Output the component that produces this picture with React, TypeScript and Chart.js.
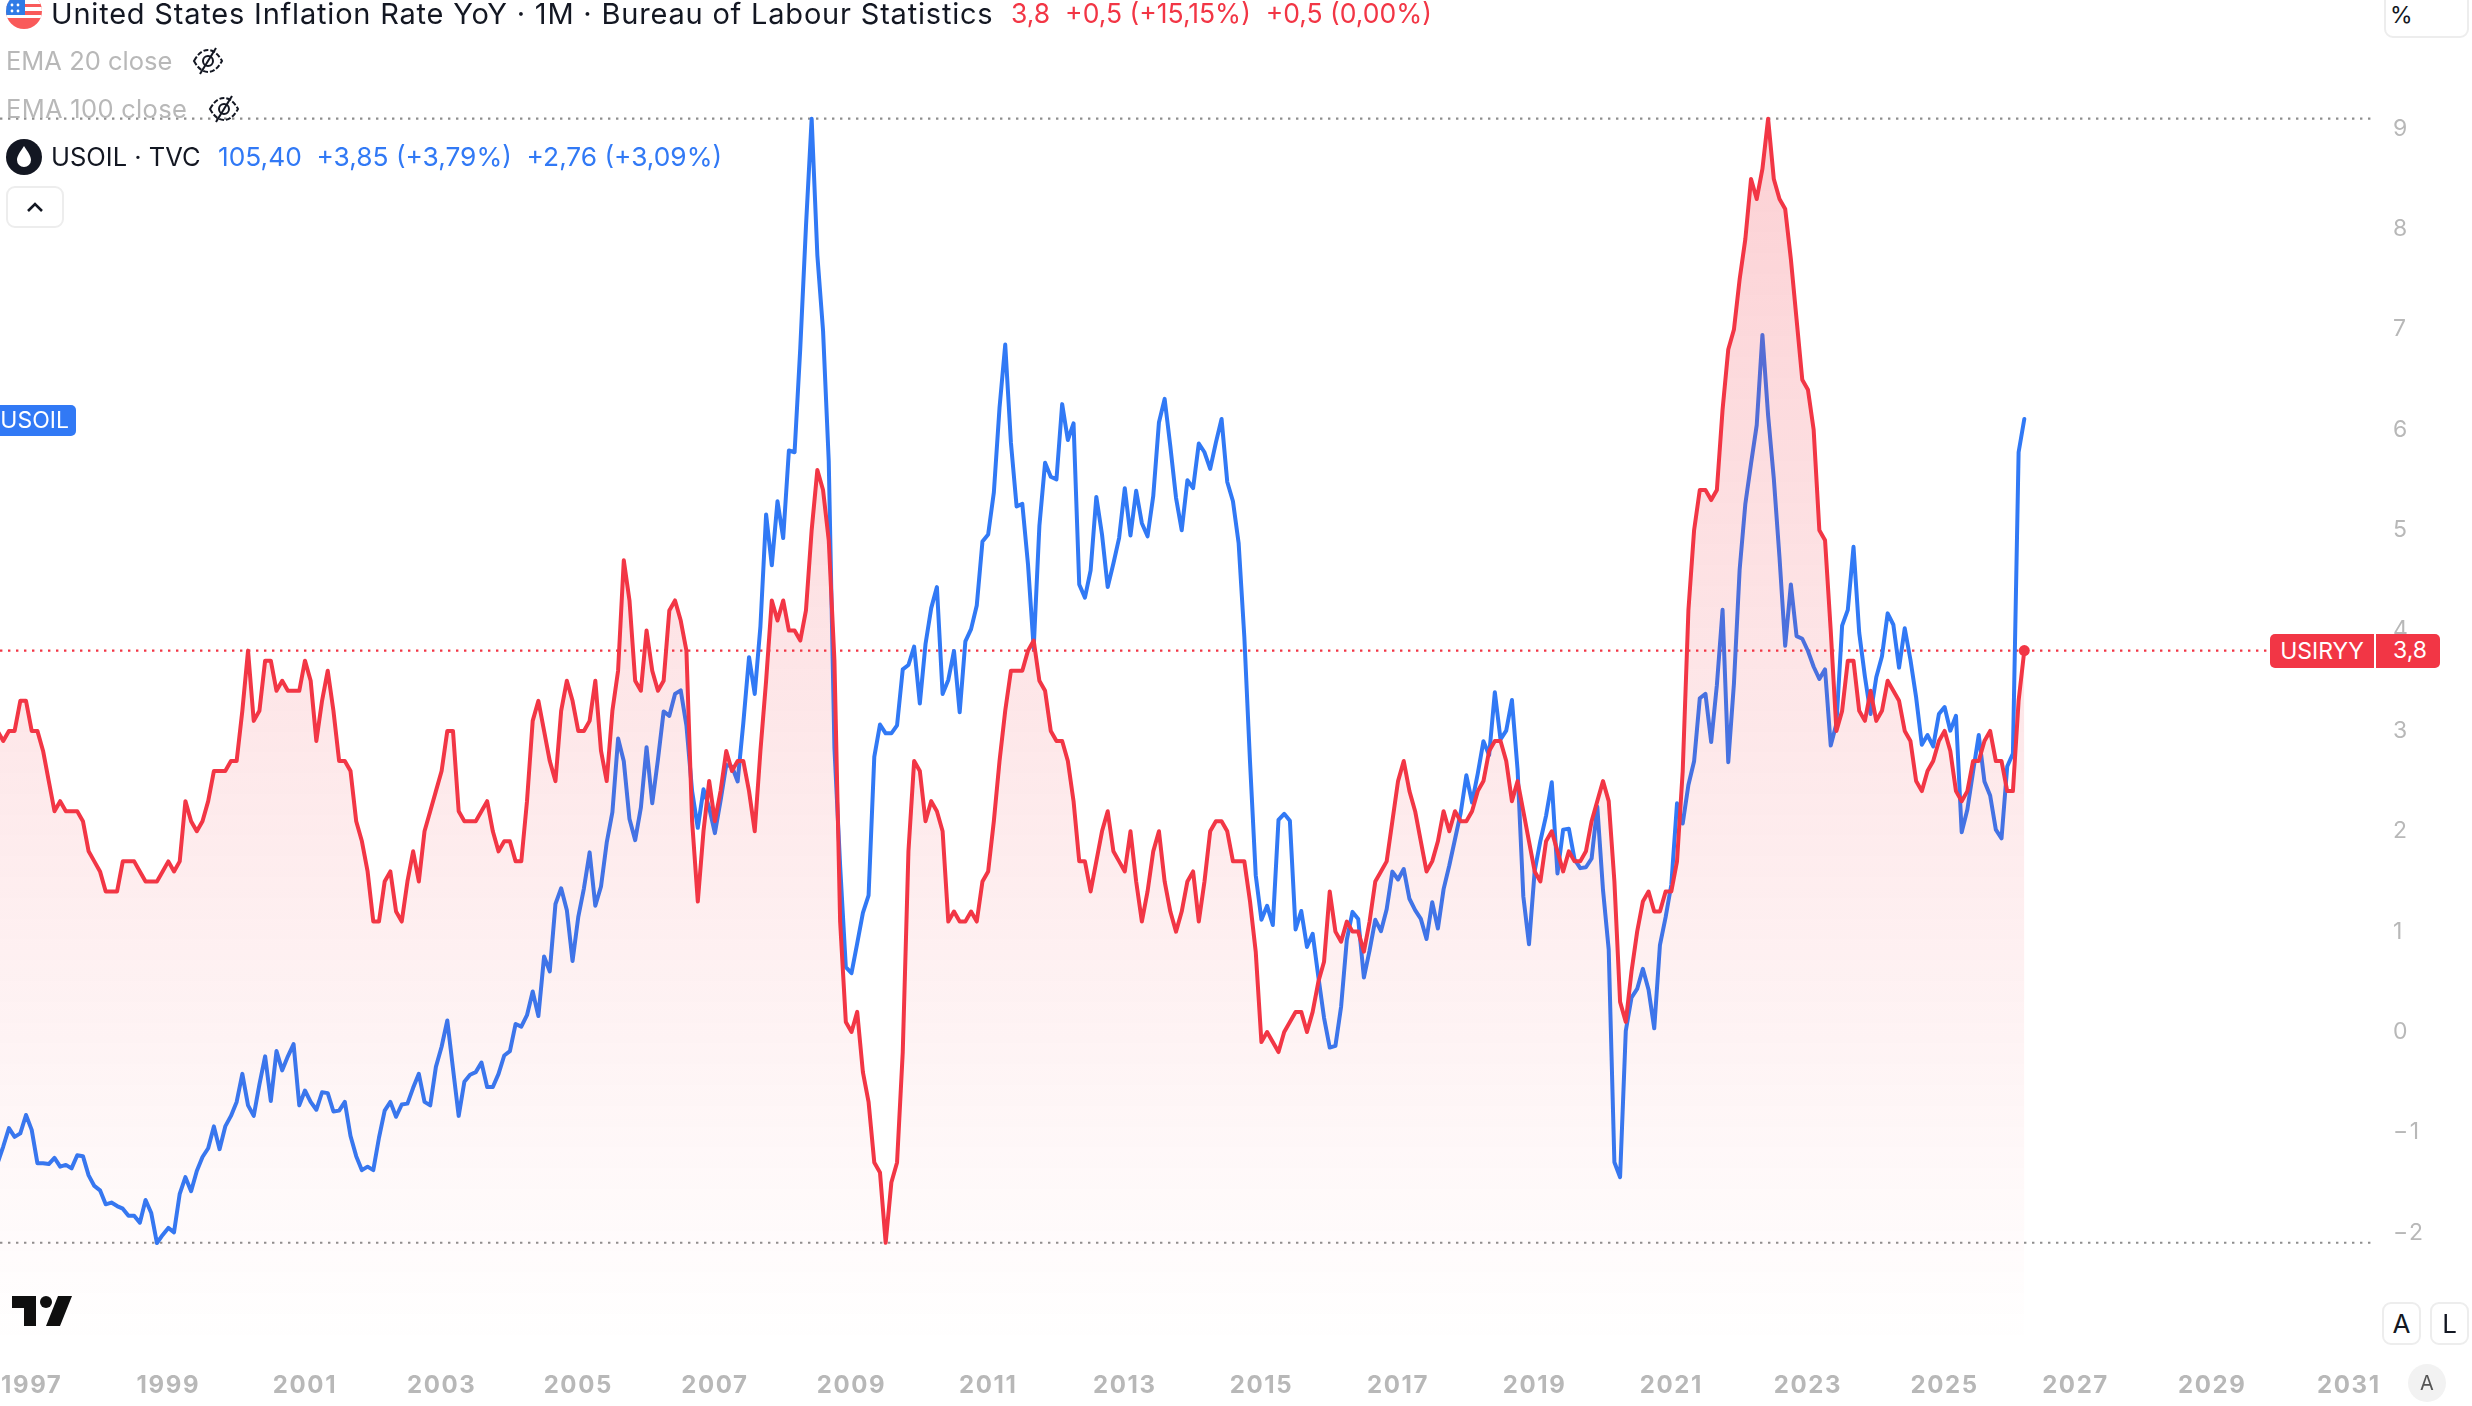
import { Chart, registerables } from "chart.js"
import { useEffect, useRef } from "react"

Chart.register(...registerables)

// bar number of the first value, bar 0 is Jan 1997. Oct 2025 has no print so the axis skips it.
const firstBar = -6

// USIRYY, Jul 1996 to Apr 2026
const inflation = [
    3.0, 2.9, 3.0, 3.0, 3.3, 3.3,
    3.0, 3.0, 2.8, 2.5, 2.2, 2.3, 2.2, 2.2, 2.2, 2.1, 1.8, 1.7,
    1.6, 1.4, 1.4, 1.4, 1.7, 1.7, 1.7, 1.6, 1.5, 1.5, 1.5, 1.6,
    1.7, 1.6, 1.7, 2.3, 2.1, 2.0, 2.1, 2.3, 2.6, 2.6, 2.6, 2.7,
    2.7, 3.2, 3.8, 3.1, 3.2, 3.7, 3.7, 3.4, 3.5, 3.4, 3.4, 3.4,
    3.7, 3.5, 2.9, 3.3, 3.6, 3.2, 2.7, 2.7, 2.6, 2.1, 1.9, 1.6,
    1.1, 1.1, 1.5, 1.6, 1.2, 1.1, 1.5, 1.8, 1.5, 2.0, 2.2, 2.4,
    2.6, 3.0, 3.0, 2.2, 2.1, 2.1, 2.1, 2.2, 2.3, 2.0, 1.8, 1.9,
    1.9, 1.7, 1.7, 2.3, 3.1, 3.3, 3.0, 2.7, 2.5, 3.2, 3.5, 3.3,
    3.0, 3.0, 3.1, 3.5, 2.8, 2.5, 3.2, 3.6, 4.7, 4.3, 3.5, 3.4,
    4.0, 3.6, 3.4, 3.5, 4.2, 4.3, 4.1, 3.8, 2.1, 1.3, 2.0, 2.5,
    2.1, 2.4, 2.8, 2.6, 2.7, 2.7, 2.4, 2.0, 2.8, 3.5, 4.3, 4.1,
    4.3, 4.0, 4.0, 3.9, 4.2, 5.0, 5.6, 5.4, 4.9, 3.7, 1.1, 0.1,
    0.0, 0.2, -0.4, -0.7, -1.3, -1.4, -2.1, -1.5, -1.3, -0.2, 1.8, 2.7,
    2.6, 2.1, 2.3, 2.2, 2.0, 1.1, 1.2, 1.1, 1.1, 1.2, 1.1, 1.5,
    1.6, 2.1, 2.7, 3.2, 3.6, 3.6, 3.6, 3.8, 3.9, 3.5, 3.4, 3.0,
    2.9, 2.9, 2.7, 2.3, 1.7, 1.7, 1.4, 1.7, 2.0, 2.2, 1.8, 1.7,
    1.6, 2.0, 1.5, 1.1, 1.4, 1.8, 2.0, 1.5, 1.2, 1.0, 1.2, 1.5,
    1.6, 1.1, 1.5, 2.0, 2.1, 2.1, 2.0, 1.7, 1.7, 1.7, 1.3, 0.8,
    -0.1, 0.0, -0.1, -0.2, 0.0, 0.1, 0.2, 0.2, 0.0, 0.2, 0.5, 0.7,
    1.4, 1.0, 0.9, 1.1, 1.0, 1.0, 0.8, 1.1, 1.5, 1.6, 1.7, 2.1,
    2.5, 2.7, 2.4, 2.2, 1.9, 1.6, 1.7, 1.9, 2.2, 2.0, 2.2, 2.1,
    2.1, 2.2, 2.4, 2.5, 2.8, 2.9, 2.9, 2.7, 2.3, 2.5, 2.2, 1.9,
    1.6, 1.5, 1.9, 2.0, 1.8, 1.6, 1.8, 1.7, 1.7, 1.8, 2.1, 2.3,
    2.5, 2.3, 1.5, 0.3, 0.1, 0.6, 1.0, 1.3, 1.4, 1.2, 1.2, 1.4,
    1.4, 1.7, 2.6, 4.2, 5.0, 5.4, 5.4, 5.3, 5.4, 6.2, 6.8, 7.0,
    7.5, 7.9, 8.5, 8.3, 8.6, 9.1, 8.5, 8.3, 8.2, 7.7, 7.1, 6.5,
    6.4, 6.0, 5.0, 4.9, 4.0, 3.0, 3.2, 3.7, 3.7, 3.2, 3.1, 3.4,
    3.1, 3.2, 3.5, 3.4, 3.3, 3.0, 2.9, 2.5, 2.4, 2.6, 2.7, 2.9,
    3.0, 2.8, 2.4, 2.3, 2.4, 2.7, 2.7, 2.9, 3.0, 2.7, 2.7,
    2.4, 2.4, 3.3, 3.8
]

// USOIL month closes, same bars
const oil = [
    20.4, 22.3, 24.4, 23.4, 23.8, 25.9,
    24.2, 20.4, 20.4, 20.3, 21.0, 20.0, 20.2, 19.8, 21.3, 21.2, 19.0, 17.8,
    17.3, 15.7, 15.9, 15.5, 15.2, 14.4, 14.4, 13.6, 16.2, 14.7, 11.28, 12.2,
    13.0, 12.5, 16.9, 18.8, 17.2, 19.5, 21.1, 22.1, 24.6, 22.0, 24.6, 25.8,
    27.4, 30.6, 27.0, 25.8, 29.4, 32.6, 27.5, 33.2, 31.0, 32.6, 34.0, 27.0,
    28.7, 27.4, 26.5, 28.5, 28.4, 26.3, 26.4, 27.4, 23.5, 21.2, 19.6, 20.0,
    19.6, 23.3, 26.4, 27.4, 25.7, 27.1, 27.2, 29.0, 30.6, 27.4, 27.0, 31.4,
    33.7, 36.7, 31.2, 25.8, 29.7, 30.5, 30.8, 31.9, 29.1, 29.1, 30.6, 32.7,
    33.2, 36.3, 36.0, 37.3, 40.0, 37.2, 44.0, 42.3, 50.0, 51.8, 49.3, 43.5,
    48.5, 51.8, 55.9, 49.8, 52.0, 57.0, 60.5, 68.9, 66.3, 59.7, 57.3, 61.0,
    67.9, 61.5, 66.5, 72.0, 71.5, 74.0, 74.4, 70.4, 62.9, 58.7, 63.1, 61.0,
    58.1, 61.8, 65.9, 65.7, 64.0, 70.7, 78.2, 74.0, 81.7, 94.5, 88.7, 96.0,
    91.8, 101.8, 101.6, 113.5, 127.4, 139.7, 124.1, 115.5, 100.6, 67.8, 54.4, 42.8,
    42.1, 45.5, 49.0, 51.0, 66.8, 70.5, 69.5, 69.5, 70.4, 76.8, 77.3, 79.4,
    72.9, 79.7, 83.8, 86.2, 74.0, 75.6, 78.9, 71.9, 80.0, 81.4, 84.1, 91.4,
    92.2, 97.0, 106.7, 113.9, 102.7, 95.4, 95.7, 88.8, 79.2, 93.2, 100.4, 98.8,
    98.5, 107.1, 103.0, 104.9, 86.5, 85.0, 88.1, 96.5, 92.2, 86.2, 88.9, 91.8,
    97.5, 92.1, 97.2, 93.5, 92.0, 96.6, 105.0, 107.7, 102.3, 96.4, 92.7, 98.4,
    97.5, 102.6, 101.6, 99.7, 102.7, 105.4, 98.2, 96.0, 91.2, 80.5, 66.2, 53.3,
    48.2, 49.8, 47.6, 59.6, 60.3, 59.5, 47.1, 49.2, 45.1, 46.6, 41.7, 37.0,
    33.6, 33.8, 38.3, 45.9, 49.1, 48.3, 41.6, 44.7, 48.2, 46.9, 49.4, 53.7,
    52.8, 54.0, 50.6, 49.3, 48.3, 46.0, 50.2, 47.2, 51.7, 54.4, 57.4, 60.4,
    64.7, 61.6, 64.9, 68.6, 67.0, 74.2, 68.8, 69.8, 73.3, 65.3, 50.9, 45.4,
    53.8, 57.2, 60.1, 63.9, 53.5, 58.5, 58.6, 55.1, 54.1, 54.2, 55.2, 61.1,
    51.6, 44.8, 20.5, 18.8, 35.5, 39.3, 40.3, 42.6, 40.2, 35.8, 45.3, 48.5,
    52.2, 61.5, 59.2, 63.6, 66.3, 73.5, 74.0, 68.5, 75.0, 83.6, 66.2, 75.2,
    88.2, 95.7, 100.3, 104.7, 115.0, 105.8, 98.6, 89.6, 79.5, 86.5, 80.6, 80.3,
    78.9, 77.1, 75.7, 76.8, 68.1, 70.6, 81.8, 83.6, 90.8, 81.0, 76.0, 71.7,
    75.9, 78.3, 83.2, 81.9, 77.0, 81.5, 77.9, 73.6, 68.2, 69.3, 68.0, 71.7,
    72.5, 69.8, 71.5, 58.2, 60.8, 65.1, 69.3, 64.0, 62.4, 58.5, 57.5,
    65.7, 67.2, 101.6, 105.4
]

const yearLabels = [1997, 1999, 2001, 2003, 2005, 2007, 2009, 2011, 2013, 2015, 2017, 2019, 2021, 2023, 2025, 2027, 2029, 2031]
const yearBars = [0, 24, 48, 72, 96, 120, 144, 168, 192, 216, 240, 264, 288, 312, 336, 359, 383, 407]
const priceTicks = [9, 8, 7, 6, 5, 4, 3, 2, 1, 0, -1, -2]
const highValue = 9.1
const lowValue = -2.1
const lastValue = 3.8

const red = "#F23645"
const blue = "#3179F5"
const grey = "#B8B8B8"
const font = "Inter, 'Liberation Sans', sans-serif"

const T = ({ x, y, size, color, children, spacing }: any) => (
    <div style={{ position: "absolute", left: x, top: y, transform: "translateY(-50%)", fontSize: size, color, letterSpacing: spacing || 0, whiteSpace: "nowrap", lineHeight: 1 }}>
        {children}
    </div>
)

const EyeOff = ({ x, y }: { x: number; y: number }) => (
    <svg style={{ position: "absolute", left: x, top: y }} width="32" height="28" viewBox="0 0 32 28" fill="none" stroke="#131722" strokeWidth="2">
        <path d="M2 14 C7 5 12 3 16 3 C20 3 25 5 30 14 C25 23 20 25 16 25 C12 25 7 23 2 14 Z" strokeDasharray="5 2" />
        <circle cx="16" cy="14" r="5" />
        <path d="M24 1 L8 27" />
    </svg>
)

const Box = ({ x, y, w, h, children }: any) => (
    <div style={{ position: "absolute", left: x, top: y, width: w, height: h, boxSizing: "border-box", border: "2px solid #EDEDED", borderRadius: 9, background: "#fff", display: "flex", alignItems: "center", justifyContent: "center", color: "#131722", fontSize: 26 }}>
        {children}
    </div>
)

// no room kept around the plot for the outer tick labels
const noPadding = (scale: any) => {
    scale.paddingLeft = 0
    scale.paddingRight = 0
    scale.paddingTop = 0
    scale.paddingBottom = 0
}

// year labels are set wide in the reference
const tickSpacing = {
    id: "tickSpacing",
    beforeDraw: (chart: any) => {
        chart.ctx.letterSpacing = "1.6px"
    }
}

export default function App() {
    const canvas = useRef<HTMLCanvasElement>(null)

    useEffect(() => {
        if (!canvas.current) return
        const xMin = -5.568
        const xMax = 411.6
        const toPoints = (values: number[]) => values.map((y, i) => ({ x: firstBar + i, y }))
        const flat = (y: number) => [{ x: xMin, y }, { x: xMax, y }]
        const last = inflation.length - 1

        const chart = new Chart(canvas.current, {
            type: "line",
            plugins: [tickSpacing],
            data: {
                datasets: [
                    {
                        label: "USIRYY",
                        data: toPoints(inflation),
                        borderColor: red,
                        borderWidth: 4,
                        borderJoinStyle: "round",
                        borderCapStyle: "round",
                        fill: "start",
                        backgroundColor: (ctx: any) => {
                            const area = ctx.chart.chartArea
                            if (!area) return "rgba(242,54,69,0.1)"
                            const g = ctx.chart.ctx.createLinearGradient(0, 118, 0, area.bottom)
                            g.addColorStop(0, "rgba(242,54,69,0.23)")
                            g.addColorStop(1, "rgba(242,54,69,0)")
                            return g
                        },
                        pointRadius: (ctx: any) => (ctx.dataIndex === last ? 5.5 : 0),
                        pointBackgroundColor: red,
                        pointBorderWidth: 0,
                        yAxisID: "y",
                        order: 1
                    },
                    {
                        label: "USOIL",
                        data: toPoints(oil),
                        borderColor: blue,
                        borderWidth: 4,
                        borderJoinStyle: "round",
                        borderCapStyle: "round",
                        pointRadius: 0,
                        yAxisID: "y2",
                        order: 2
                    },
                    {
                        label: "last",
                        data: flat(lastValue),
                        borderColor: red,
                        borderWidth: 2.2,
                        borderDash: [2.4, 5.6],
                        pointRadius: 0,
                        yAxisID: "y",
                        order: 3
                    },
                    {
                        label: "high",
                        data: flat(highValue),
                        borderColor: "#8E8E8E",
                        borderWidth: 2.2,
                        borderDash: [2.4, 5.6],
                        pointRadius: 0,
                        yAxisID: "y",
                        order: 3
                    },
                    {
                        label: "low",
                        data: flat(lowValue),
                        borderColor: "#8E8E8E",
                        borderWidth: 2.2,
                        borderDash: [2.4, 5.6],
                        pointRadius: 0,
                        yAxisID: "y",
                        order: 3
                    }
                ]
            },
            options: {
                animation: false,
                responsive: false,
                devicePixelRatio: 1,
                layout: { padding: 0, autoPadding: false },
                plugins: { legend: { display: false }, tooltip: { enabled: false } },
                scales: {
                    x: {
                        type: "linear",
                        min: xMin,
                        max: xMax,
                        grid: { display: false },
                        border: { display: false },
                        afterFit: (scale: any) => {
                            scale.height = 61
                            noPadding(scale)
                        },
                        afterBuildTicks: (scale: any) => {
                            scale.ticks = yearBars.map((value) => ({ value }))
                        },
                        ticks: {
                            autoSkip: false,
                            maxRotation: 0,
                            padding: 18,
                            color: grey,
                            font: { family: "Inter", size: 24, weight: 700 },
                            callback: (value: any) => String(yearLabels[yearBars.indexOf(value)])
                        }
                    },
                    y: {
                        position: "right",
                        min: -3.119,
                        max: 10.283,
                        grid: { display: false },
                        border: { display: false },
                        afterFit: (scale: any) => {
                            scale.width = 97
                            noPadding(scale)
                        },
                        afterBuildTicks: (scale: any) => {
                            scale.ticks = priceTicks.map((value) => ({ value }))
                        },
                        ticks: {
                            autoSkip: false,
                            padding: 10,
                            color: grey,
                            font: { family: "Inter", size: 23 },
                            callback: (value: any) => (value < 0 ? "\u2212" + Math.abs(value) : String(value))
                        }
                    },
                    y2: { display: false, position: "left", min: -0.37, max: 153.26 }
                }
            }
        })

        return () => {
            chart.destroy()
        }
    }, [])

    return (
        <div style={{ position: "absolute", left: 0, top: 0, width: 2472, height: 1406, overflow: "hidden", background: "#fff", fontFamily: font }}>
            <canvas ref={canvas} width={2472} height={1406} style={{ position: "absolute", left: 0, top: 0 }}></canvas>

            {/* flag, its top is cut by the page edge */}
            <svg style={{ position: "absolute", left: 6, top: -7 }} width="36" height="36" viewBox="0 0 36 36">
                <clipPath id="flag"><circle cx="18" cy="18" r="18" /></clipPath>
                <g clipPath="url(#flag)">
                    <rect width="36" height="36" fill="#F95A5A" />
                    <rect y="14" width="36" height="4" fill="#fff" />
                    <rect y="7" width="36" height="4" fill="#fff" />
                    <rect y="22" width="36" height="3" fill="#fff" />
                    <rect width="19" height="22" fill="#2F7BE6" />
                    <circle cx="6" cy="12" r="1.4" fill="#fff" />
                    <circle cx="12" cy="12" r="1.4" fill="#fff" />
                    <circle cx="6" cy="18" r="1.4" fill="#fff" />
                    <circle cx="12" cy="18" r="1.4" fill="#fff" />
                </g>
            </svg>
            <T x={51} y={13} size={29} spacing="0.8px" color="#131722">United States Inflation Rate YoY · 1M · Bureau of Labour Statistics</T>
            <T x={1011} y={13} size={26.5} color={red}>3,8&nbsp; +0,5 (+15,15%)&nbsp; +0,5 (0,00%)</T>

            <T x={6} y={61} size={25.5} color={grey}>EMA 20 close</T>
            <EyeOff x={192} y={47} />
            <T x={6} y={109} size={25.5} spacing="0.3px" color={grey}>EMA 100 close</T>
            <EyeOff x={208} y={95} />

            <svg style={{ position: "absolute", left: 6, top: 139 }} width="36" height="36" viewBox="0 0 36 36">
                <circle cx="18" cy="18" r="18" fill="#131722" />
                <path d="M18 7 C22 13 25 17 25 21 A7 7 0 0 1 11 21 C11 17 14 13 18 7 Z" fill="#fff" />
            </svg>
            <T x={51} y={157} size={25.5} color="#131722">USOIL · TVC</T>
            <T x={218} y={157} size={26.3} color={blue}>105,40&nbsp; +3,85 (+3,79%)&nbsp; +2,76 (+3,09%)</T>

            <Box x={6} y={186} w={58} h={42}>
                <svg width="18" height="12" viewBox="0 0 18 12" fill="none" stroke="#131722" strokeWidth="2.6"><path d="M2 10 L9 3 L16 10" /></svg>
            </Box>

            <div style={{ position: "absolute", left: 2384, top: -10, width: 85, height: 48, boxSizing: "border-box", border: "2px solid #EDEDED", borderRadius: 9, background: "#fff" }}></div>
            <T x={2390} y={15} size={23} color="#131722">%</T>

            <div style={{ position: "absolute", left: 0, top: 405, width: 76, height: 31, background: blue, color: "#fff", borderRadius: "0 5px 5px 0", fontSize: 23, lineHeight: "31px", overflow: "hidden", textAlign: "right", paddingRight: 7, boxSizing: "border-box" }}>USOIL</div>

            <div style={{ position: "absolute", left: 2270, top: 634, width: 104, height: 34, background: red, color: "#fff", borderRadius: "5px 0 0 5px", fontSize: 23, lineHeight: "34px", textAlign: "center" }}>USIRYY</div>
            <div style={{ position: "absolute", left: 2376, top: 634, width: 64, height: 34, background: red, color: "#fff", borderRadius: "0 5px 5px 0", fontSize: 23, lineHeight: "32px", paddingLeft: 17, boxSizing: "border-box" }}>3,8</div>

            <svg style={{ position: "absolute", left: 12, top: 1296 }} width="60" height="30" viewBox="0 0 60 30" fill="#0F0F0F">
                <path d="M0 0 H24 V30 H12 V12 H0 Z" />
                <circle cx="34" cy="6" r="6" />
                <path d="M46 0 H60 L48 30 H34 Z" />
            </svg>

            <Box x={2382} y={1302} w={39} h={43}>A</Box>
            <Box x={2430} y={1302} w={39} h={43}>L</Box>
            <div style={{ position: "absolute", left: 2408, top: 1364, width: 38, height: 38, borderRadius: 19, background: "#F2F2F2", color: "#555", fontSize: 20, lineHeight: "38px", textAlign: "center" }}>A</div>
        </div>
    )
}
